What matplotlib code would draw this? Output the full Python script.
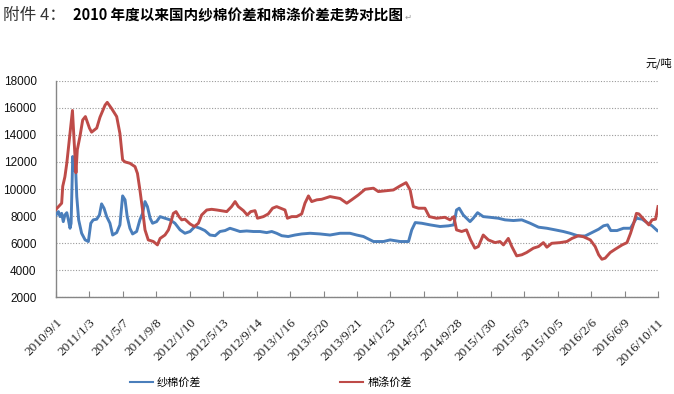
import matplotlib
matplotlib.use("Agg")
import matplotlib.pyplot as plt
import numpy as np
import pandas as pd
from matplotlib.lines import Line2D

plt.rcParams['font.family'] = ['Noto Sans CJK SC', 'DejaVu Sans']

# ---- data (day offsets from 2010-09-01, values in 元/吨) ----
base_date = "2010-09-01"

yarn_days = [0, 9, 15, 21, 27, 33, 40, 46, 52, 56, 62, 67, 72, 77, 84, 95, 108, 120, 129, 138,
             151, 161, 169, 178, 188, 200, 210, 225, 237, 247, 256, 264, 274, 284, 299, 311, 321,
             330, 339, 349, 358, 373, 386, 404, 423, 441, 460, 478, 497, 515, 534, 552, 571, 590,
             608, 627, 645, 664, 682, 707, 732, 756, 781, 800, 818, 837, 861, 886, 911, 942, 979,
             1016, 1053, 1090, 1115, 1140, 1177, 1214, 1239, 1276, 1307, 1319, 1332, 1356, 1387,
             1424, 1455, 1475, 1485, 1495, 1510, 1535, 1547, 1563, 1584, 1609, 1640, 1665, 1696,
             1727, 1758, 1789, 1820, 1851, 1881, 1906, 1937, 1962, 1987, 2012, 2030, 2045, 2057,
             2080, 2104, 2130, 2152, 2173, 2191, 2210, 2229]
yarn_cotton = [8080, 8330, 7960, 8200, 7590, 8080, 8250, 7720, 7100, 7470, 12400, 11400, 11900,
               9440, 7720, 6730, 6240, 6120, 7470, 7720, 7770, 8080, 8900, 8580, 7960, 7470, 6600,
               6780, 7350, 9490, 9200, 7960, 7100, 6680, 6860, 7720, 8200, 9070, 8700, 7840, 7470,
               7590, 7960, 7840, 7720, 7470, 6980, 6730, 6860, 7230, 7100, 6930, 6600, 6550, 6860,
               6930, 7100, 6980, 6860, 6900, 6860, 6860, 6780, 6860, 6730, 6550, 6490, 6600, 6680,
               6730, 6680, 6600, 6730, 6730, 6600, 6490, 6120, 6120, 6240, 6120, 6120, 6980, 7520,
               7470, 7350, 7230, 7280, 7350, 8450, 8580, 8080, 7590, 7840, 8250, 7960, 7910, 7840,
               7720, 7670, 7720, 7470, 7180, 7100, 6980, 6860, 6730, 6530, 6530, 6780, 7030, 7280,
               7350, 6930, 6930, 7100, 7100, 7840, 7770, 7520, 7280, 6930]

poly_days = [0, 21, 25, 33, 40, 52, 61, 67, 74, 79, 89, 99, 109, 124, 132, 151, 163, 182, 190,
             206, 225, 237, 247, 256, 274, 293, 302, 311, 321, 330, 342, 361, 376, 386, 404, 417,
             425, 435, 445, 456, 466, 478, 497, 513, 528, 540, 559, 577, 596, 633, 651, 664, 676,
             695, 709, 722, 738, 747, 769, 787, 803, 818, 833, 849, 858, 874, 892, 911, 923, 936,
             948, 967, 985, 1016, 1053, 1078, 1096, 1121, 1146, 1177, 1195, 1220, 1251, 1276, 1298,
             1313, 1325, 1344, 1368, 1384, 1411, 1442, 1461, 1475, 1485, 1504, 1522, 1537, 1553,
             1566, 1584, 1603, 1628, 1646, 1659, 1677, 1690, 1708, 1727, 1745, 1770, 1789, 1807,
             1820, 1838, 1869, 1894, 1913, 1937, 1956, 1981, 1999, 2012, 2024, 2036, 2055, 2074,
             2099, 2117, 2130, 2142, 2152, 2161, 2179, 2198, 2210, 2223, 2232]
cotton_poly = [8500, 8950, 10200, 10900, 11900, 14100, 15800, 13600, 11200, 12900, 13900, 15100,
               15350, 14500, 14200, 14500, 15300, 16200, 16400, 15950, 15350, 14100, 12150, 12000,
               11900, 11650, 11150, 9950, 8450, 6980, 6240, 6120, 5870, 6350, 6600, 6980, 7470,
               8200, 8330, 7960, 7720, 7770, 7420, 7230, 7470, 8080, 8450, 8500, 8450, 8330, 8700,
               9070, 8700, 8400, 8080, 8330, 8400, 7840, 7960, 8160, 8580, 8700, 8580, 8450, 7840,
               7960, 7960, 8160, 8950, 9490, 9070, 9200, 9240, 9440, 9300, 8950, 9200, 9560, 9980,
               10060, 9810, 9860, 9930, 10230, 10470, 9930, 8700, 8580, 8580, 7960, 7840, 7910,
               7720, 7960, 6980, 6860, 6980, 6240, 5630, 5750, 6600, 6240, 6040, 6120, 5870, 6350,
               5750, 5060, 5140, 5310, 5630, 5750, 6040, 5700, 5990, 6040, 6120, 6350, 6550, 6470,
               6240, 5750, 5140, 4810, 4890, 5310, 5560, 5870, 6040, 6720, 7470, 8200, 8160, 7770,
               7350, 7720, 7770, 8700]

tick_labels = ["2010/9/1", "2011/1/3", "2011/5/7", "2011/9/8", "2012/1/10", "2012/5/13",
               "2012/9/14", "2013/1/16", "2013/5/20", "2013/9/21", "2014/1/23", "2014/5/27",
               "2014/9/28", "2015/1/30", "2015/6/3", "2015/10/5", "2016/2/6", "2016/6/9",
               "2016/10/11"]
y_ticks = [2000, 4000, 6000, 8000, 10000, 12000, 14000, 16000, 18000]
series_names = ["纱棉价差", "棉涤价差"]

# ---- figure ----
fig = plt.figure(figsize=(6.74, 3.94), dpi=100)
ax = fig.add_axes([56 / 674, 1 - 297.3 / 394, 602 / 674, 216.6 / 394])

b = pd.Timestamp(base_date)
yx = [b + pd.Timedelta(days=d) for d in yarn_days]
px = [b + pd.Timedelta(days=d) for d in poly_days]
tick_dates = [pd.Timestamp(t.replace("/", "-")) for t in tick_labels]

blue = "#4A7EBB"
red = "#BE4B48"
ax.plot(yx, yarn_cotton, color=blue, lw=2.1, solid_joinstyle="round", zorder=3)
ax.plot(px, cotton_poly, color=red, lw=2.1, solid_joinstyle="round", zorder=3)

ax.set_xlim(tick_dates[0], tick_dates[-1])
ax.set_ylim(y_ticks[0], y_ticks[-1])
ax.set_yticks(y_ticks)
ax.set_yticklabels([str(v) for v in y_ticks], family="Liberation Sans", fontsize=8.5,
                   color="#111111")
ax.set_xticks(tick_dates)
ax.set_xticklabels(tick_labels, family="Liberation Serif", fontsize=9.5, rotation=45,
                   ha="right", va="top", rotation_mode="anchor", color="#222222")
ax.tick_params(axis="x", direction="in", length=4, color="#868686", pad=14)
ax.tick_params(axis="y", length=0, pad=14)

ax.grid(axis="y", color="#9A9A9A", lw=0.8, ls=(0, (1, 1.5)))
ax.set_axisbelow(True)
for s in ["top", "right"]:
    ax.spines[s].set_visible(False)
for s in ["left", "bottom"]:
    ax.spines[s].set_color("#868686")
    ax.spines[s].set_linewidth(1.0)

# unit label
fig.text(672 / 674, 1 - 63 / 394, "元/吨", ha="right", va="center", fontsize=8)

# title
t1 = fig.text(3 / 674, 1 - 15 / 394, "附件 4：", ha="left", va="center", fontsize=12,
              fontweight="light", color="#333333")
t2 = fig.text(73 / 674, 1 - 15 / 394, "2010 年度以来国内纱棉价差和棉涤价差走势对比图",
              ha="left", va="center", fontsize=10.5, fontweight="bold")
fig.canvas.draw()
r = fig.canvas.get_renderer()
bb2 = t2.get_window_extent(r)
fig.text(bb2.x1 / 674 + 0.002, 1 - 17 / 394, "↵", ha="left", va="center", fontsize=6,
         color="#999999", family=["DejaVu Sans"])

# legend
handles = [Line2D([0], [0], color=blue, lw=1.5), Line2D([0], [0], color=red, lw=1.5)]
fig.legend(handles, series_names, loc="center", bbox_to_anchor=(271 / 674, 1 - 382 / 394),
           ncol=2, frameon=False, fontsize=8, handlelength=2.0, handletextpad=0.4,
           columnspacing=12.5)

fig.savefig("out.png", dpi=100)
